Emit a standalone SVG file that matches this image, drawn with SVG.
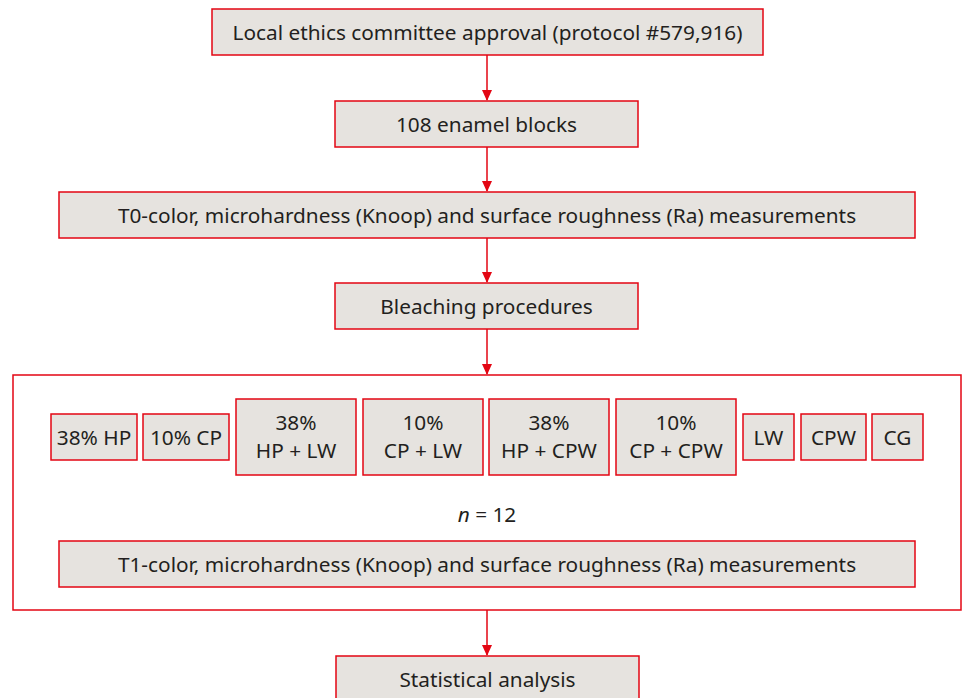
<svg xmlns="http://www.w3.org/2000/svg" width="965" height="698" viewBox="0 0 965 698">
<style>
.b{fill:#e6e3df;stroke:#e30613;stroke-width:1.5}
.o{fill:none;stroke:#e30613;stroke-width:1.5}
.t{font-family:"Noto Sans","Open Sans",sans-serif;font-size:20.8px;fill:#231f20;text-anchor:middle}
.c{stroke:#e30613;stroke-width:1.5;fill:none}
.a{fill:#e30613}
</style>
<rect width="965" height="698" fill="#ffffff"/>
<g id="connectors">
<line class="c" x1="487" y1="55" x2="487" y2="100"/>
<line class="c" x1="487" y1="147" x2="487" y2="191"/>
<line class="c" x1="487" y1="238" x2="487" y2="282"/>
<line class="c" x1="487" y1="329" x2="487" y2="374"/>
<line class="c" x1="487" y1="610" x2="487" y2="655"/>
<path class="a" d="M482,90 L492,90 L487,101 Z"/>
<path class="a" d="M482,181 L492,181 L487,192 Z"/>
<path class="a" d="M482,272 L492,272 L487,283 Z"/>
<path class="a" d="M482,364 L492,364 L487,375 Z"/>
<path class="a" d="M482,645 L492,645 L487,656 Z"/>
</g>
<g id="n1"><rect class="b" x="212" y="9" width="551" height="46"/><text class="t" x="487.5" y="39.5">Local ethics committee approval (protocol #579,916)</text></g>
<g id="n2"><rect class="b" x="335" y="101" width="303" height="46"/><text class="t" x="486.5" y="131.5">108 enamel blocks</text></g>
<g id="n3"><rect class="b" x="59" y="192" width="856" height="46"/><text class="t" x="487" y="222.5">T0-color, microhardness (Knoop) and surface roughness (Ra) measurements</text></g>
<g id="n4"><rect class="b" x="335" y="283" width="303" height="46"/><text class="t" x="486.5" y="313.5">Bleaching procedures</text></g>
<g id="group"><rect class="o" x="13" y="375" width="948" height="235"/>
<text class="t" x="487" y="522"><tspan font-style="italic">n</tspan> = 12</text></g>
<g id="g1"><rect class="b" x="51" y="414" width="86" height="46"/><text class="t" x="94" y="444.5">38% HP</text></g>
<g id="g2"><rect class="b" x="143" y="414" width="86" height="46"/><text class="t" x="186" y="444.5">10% CP</text></g>
<g id="g3"><rect class="b" x="236" y="399" width="120" height="76"/><text class="t" x="296" y="430">38%</text><text class="t" x="296" y="458">HP + LW</text></g>
<g id="g4"><rect class="b" x="363" y="399" width="120" height="76"/><text class="t" x="423" y="430">10%</text><text class="t" x="423" y="458">CP + LW</text></g>
<g id="g5"><rect class="b" x="489" y="399" width="120" height="76"/><text class="t" x="549" y="430">38%</text><text class="t" x="549" y="458">HP + CPW</text></g>
<g id="g6"><rect class="b" x="616" y="399" width="120" height="76"/><text class="t" x="676" y="430">10%</text><text class="t" x="676" y="458">CP + CPW</text></g>
<g id="g7"><rect class="b" x="743" y="414" width="51" height="46"/><text class="t" x="768.5" y="444.5">LW</text></g>
<g id="g8"><rect class="b" x="801" y="414" width="65" height="46"/><text class="t" x="833.5" y="444.5">CPW</text></g>
<g id="g9"><rect class="b" x="872" y="414" width="51" height="46"/><text class="t" x="897.5" y="444.5">CG</text></g>
<g id="n5"><rect class="b" x="59" y="541" width="856" height="46"/><text class="t" x="487" y="571.5">T1-color, microhardness (Knoop) and surface roughness (Ra) measurements</text></g>
<g id="n6"><rect class="b" x="336" y="656" width="303" height="50"/><text class="t" x="487.5" y="686.5">Statistical analysis</text></g>
</svg>
